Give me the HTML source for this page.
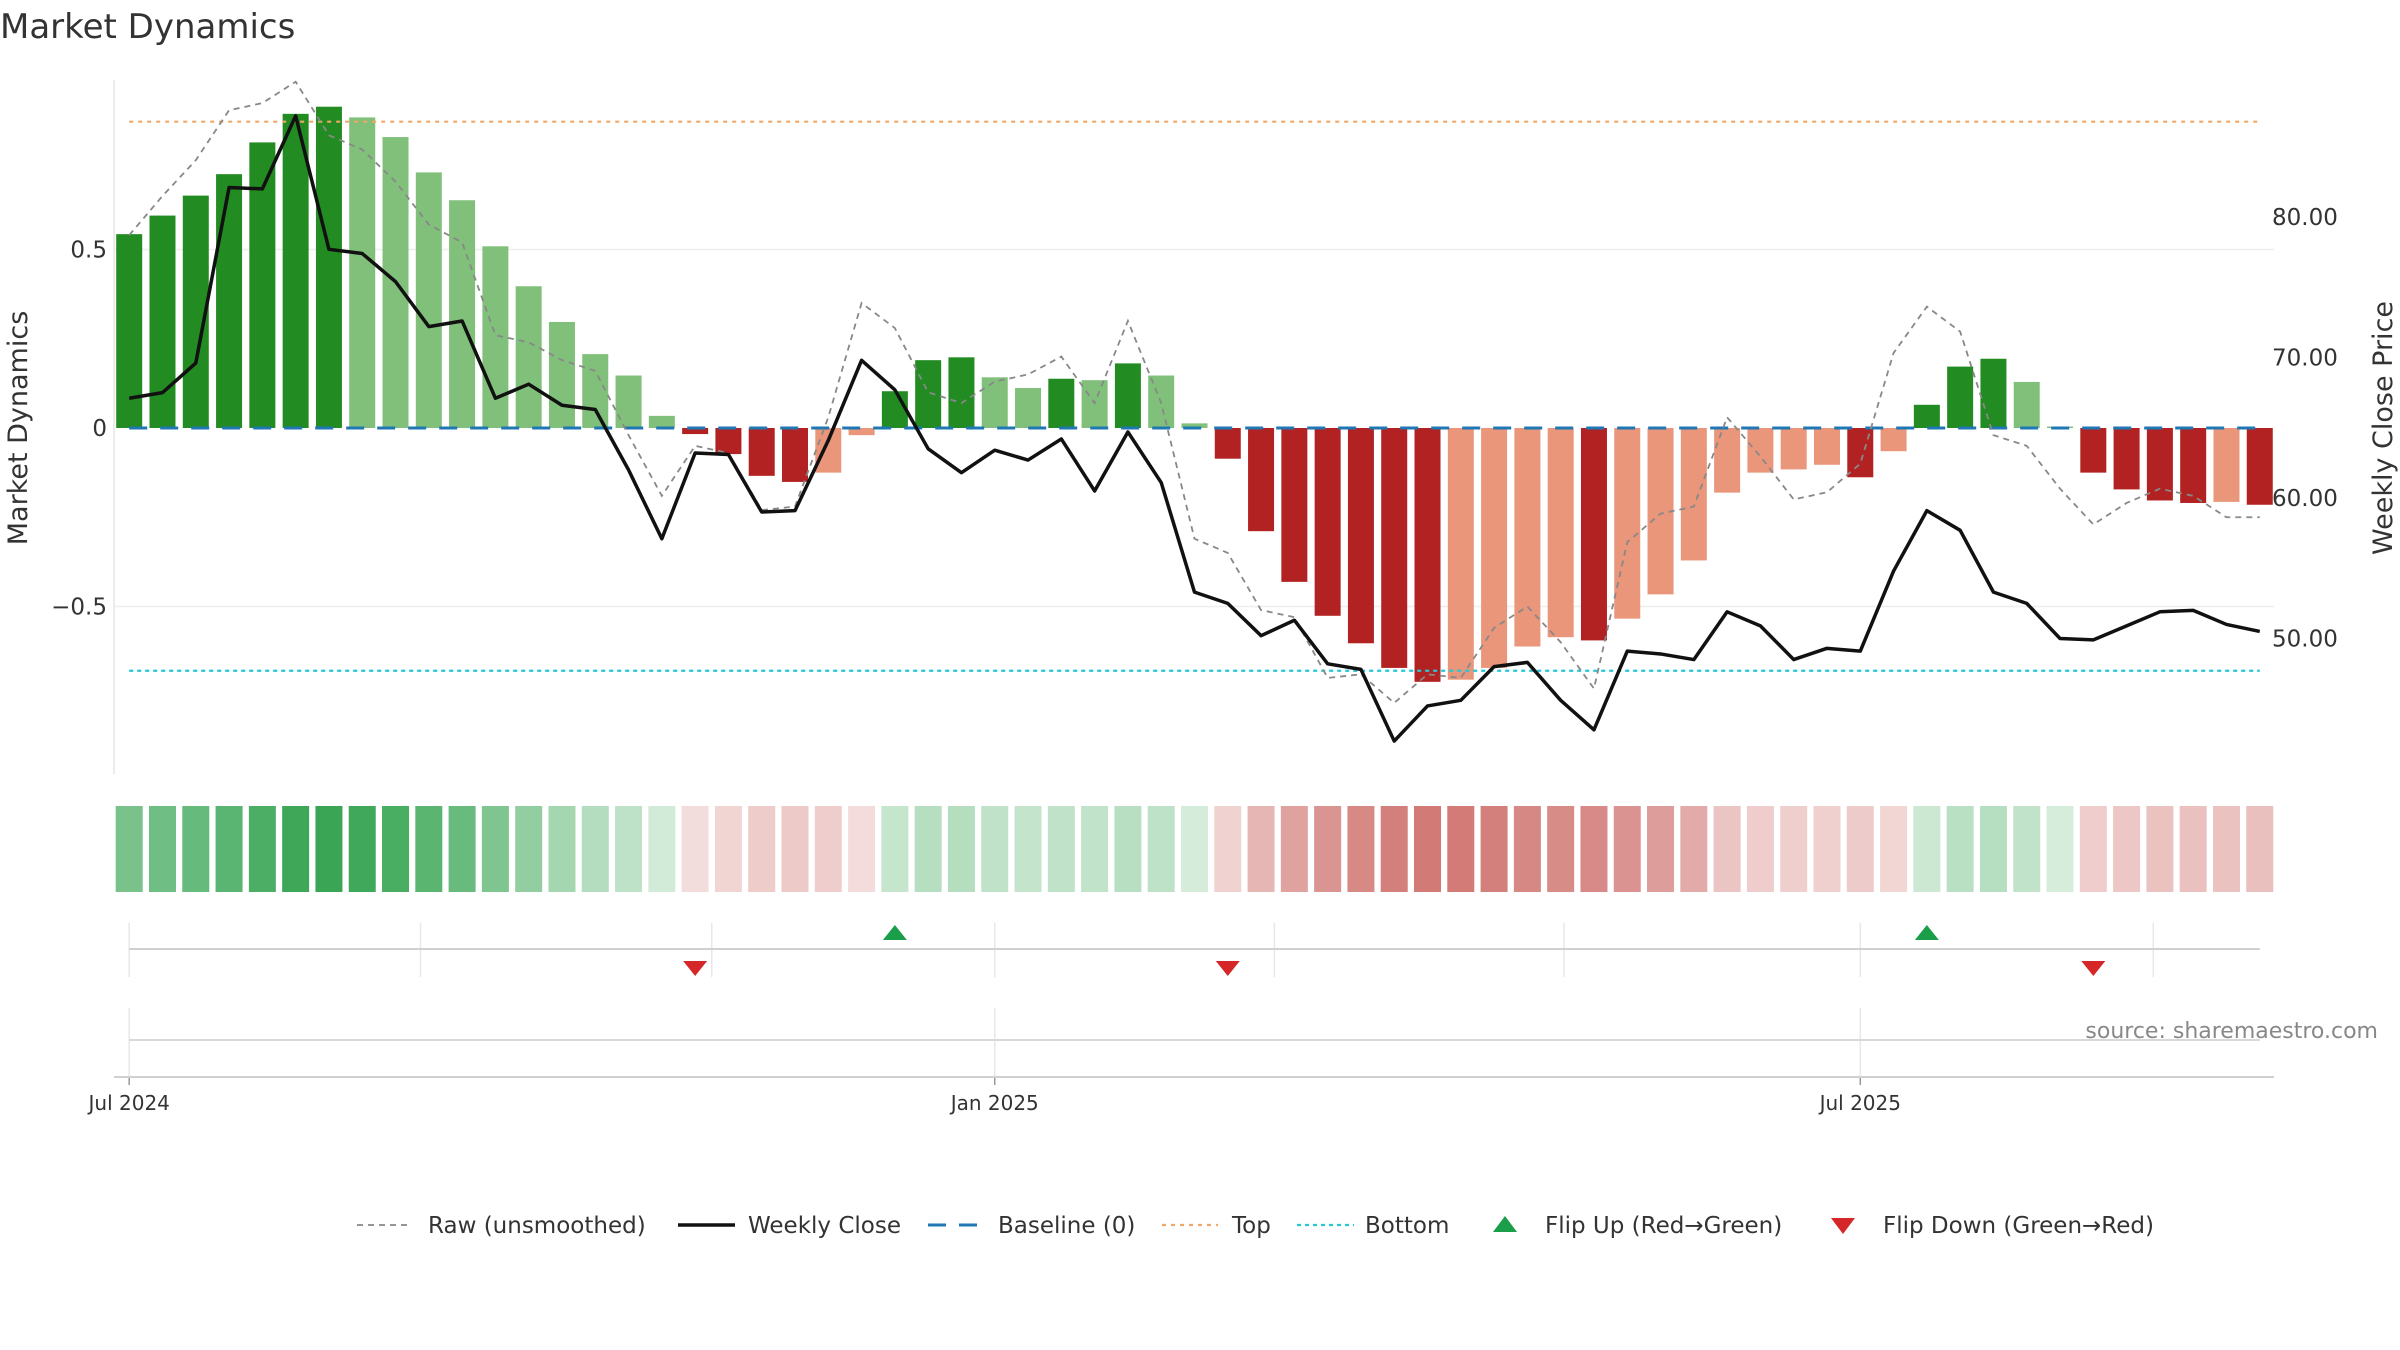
<!DOCTYPE html>
<html><head><meta charset="utf-8"><style>
html,body{margin:0;padding:0;background:#fff;}
svg{display:block;font-family:"DejaVu Sans","Liberation Sans",sans-serif;}
</style></head><body>
<svg id="chart" width="2400" height="1350" viewBox="0 0 2400 1350" xmlns="http://www.w3.org/2000/svg">
<text x="0" y="38" font-size="34" fill="#333">Market Dynamics</text>
<g id="main"></g>
<g id="heat"></g>
<g id="flips"></g>
<g id="bottom"></g>
<text x="2378" y="1038" font-size="22" fill="#888" text-anchor="end">source: sharemaestro.com</text>
<g id="legend"></g>
</svg>
<script>
const dynamics = [0.543,0.595,0.651,0.711,0.80,0.88,0.90,0.87,0.815,0.716,0.638,0.509,0.397,0.297,0.207,0.147,0.034,-0.017,-0.073,-0.134,-0.151,-0.125,-0.02,0.103,0.19,0.198,0.142,0.112,0.138,0.134,0.181,0.147,0.013,-0.086,-0.289,-0.431,-0.526,-0.603,-0.672,-0.711,-0.705,-0.672,-0.612,-0.586,-0.595,-0.534,-0.466,-0.371,-0.181,-0.125,-0.116,-0.103,-0.138,-0.065,0.065,0.172,0.194,0.129,0.004,-0.125,-0.172,-0.203,-0.21,-0.207,-0.215];
const raw = [0.54,0.65,0.75,0.89,0.91,0.97,0.82,0.78,0.69,0.57,0.52,0.26,0.24,0.19,0.16,-0.02,-0.19,-0.05,-0.07,-0.23,-0.22,0.03,0.35,0.28,0.10,0.07,0.13,0.15,0.20,0.07,0.30,0.07,-0.31,-0.35,-0.51,-0.53,-0.70,-0.69,-0.77,-0.69,-0.70,-0.56,-0.50,-0.60,-0.73,-0.32,-0.24,-0.22,0.03,-0.08,-0.20,-0.18,-0.10,0.21,0.34,0.27,-0.02,-0.05,-0.17,-0.27,-0.21,-0.17,-0.19,-0.25,-0.25];
const closes = [67.1,67.5,69.6,82.1,82.0,87.2,77.7,77.4,75.4,72.2,72.6,67.1,68.1,66.6,66.3,62.0,57.1,63.2,63.1,59.0,59.1,64.1,69.8,67.7,63.5,61.8,63.4,62.7,64.2,60.5,64.7,61.1,53.3,52.5,50.2,51.3,48.2,47.8,42.7,45.2,45.6,48.0,48.3,45.6,43.5,49.1,48.9,48.5,51.9,50.9,48.5,49.3,49.1,54.8,59.1,57.7,53.3,52.5,50.0,49.9,50.9,51.9,52.0,51.0,50.5];
const flipUp = [23,54];
const flipDown = [17,33,59];
const topLevel = 0.858;
const bottomLevel = -0.68;
const leftTicks = [0.5,0,-0.5];
const leftTickLabels = ["0.5","0","\u22120.5"];
const rightTicks = [80,70,60,50];
const rightTickLabels = ["80.00","70.00","60.00","50.00"];
const dateTickIdx = [0,26,52];
const dateTickLabels = ["Jul 2024","Jan 2025","Jul 2025"];
const gridIdx = [0,8.75,17.5,26,34.4,43.1,52,60.8];

const NS="http://www.w3.org/2000/svg";
function mk(parent,tag,attrs){const e=document.createElementNS(NS,tag);for(const k in attrs)e.setAttribute(k,attrs[k]);parent.appendChild(e);return e;}
const X0=129.2, STEP=33.29;
const xs=i=>X0+STEP*i;
const yL=v=>428-357*v;
const yR=p=>217+(80-p)*14.05;
const main=document.getElementById('main');

let e=mk(main,'line',{x1:114,y1:80,x2:114,y2:774,stroke:'#e6e6e6','stroke-width':1.5});

leftTicks.forEach((v,k)=>{
  if(v!==0){let g=mk(main,'line',{x1:114,y1:yL(v),x2:2274,y2:yL(v),stroke:'#eeeeee','stroke-width':1.5});
  }
  let t=mk(main,'text',{x:107,y:yL(v)+8,'font-size':23,fill:'#333','text-anchor':'end'});t.textContent=leftTickLabels[k];
  
});
rightTicks.forEach((p,k)=>{
  let t=mk(main,'text',{x:2272,y:yR(p)+8,'font-size':23,fill:'#333'});t.textContent=rightTickLabels[k];
  
});
let yl=mk(main,'text',{x:0,y:0,'font-size':27,fill:'#333','text-anchor':'middle',transform:'translate(27,428) rotate(-90)'});yl.textContent='Market Dynamics';

let yr=mk(main,'text',{x:0,y:0,'font-size':27,fill:'#333','text-anchor':'middle',transform:'translate(2392,428) rotate(-90)'});yr.textContent='Weekly Close Price';


dynamics.forEach((v,i)=>{
  const prev=i>0?dynamics[i-1]:0;
  const strong=(i===0)||(Math.sign(v)!==Math.sign(prev))||Math.abs(v)>=Math.abs(prev);
  const col=v>=0?(strong?'#228b22':'#80c07a'):(strong?'#b22222':'#e9967a');
  const y0=yL(0),y1=yL(v);
  let b=mk(main,'rect',{x:xs(i)-13,y:Math.min(y0,y1),width:26,height:Math.max(Math.abs(y1-y0),1),fill:col});
  
});
e=mk(main,'line',{x1:xs(0),y1:yL(topLevel),x2:xs(64),y2:yL(topLevel),stroke:'#f0a868','stroke-width':2.2,'stroke-dasharray':'4,5'});

e=mk(main,'line',{x1:xs(0),y1:yL(bottomLevel),x2:xs(64),y2:yL(bottomLevel),stroke:'#22c7d8','stroke-width':2.2,'stroke-dasharray':'4,4'});

e=mk(main,'line',{x1:xs(0),y1:yL(0),x2:xs(64),y2:yL(0),stroke:'#1f77b4','stroke-width':3,'stroke-dasharray':'18,13'});

e=mk(main,'polyline',{points:raw.map((v,i)=>xs(i)+','+yL(v)).join(' '),fill:'none',stroke:'#888','stroke-width':1.8,'stroke-dasharray':'6,5'});

e=mk(main,'polyline',{points:closes.map((p,i)=>xs(i)+','+yR(p)).join(' '),fill:'none',stroke:'#111','stroke-width':3.5,'stroke-linejoin':'round'});


const heat=document.getElementById('heat');
dynamics.forEach((v,i)=>{
  const a=Math.min(1,0.2+0.8*Math.abs(v)/0.9);
  const base=v>=0?[58,166,85]:[200,95,90];
  const c=base.map(b=>Math.round(255-(255-b)*a));
  let r=mk(heat,'rect',{x:xs(i)-13.5,y:806,width:27,height:86,fill:`rgb(${c[0]},${c[1]},${c[2]})`});
  
});

const flips=document.getElementById('flips');
gridIdx.forEach(g=>{let l=mk(flips,'line',{x1:xs(g),y1:923,x2:xs(g),y2:977,stroke:'#e8e8e8','stroke-width':1.5});
});
e=mk(flips,'line',{x1:xs(0),y1:949,x2:xs(64),y2:949,stroke:'#d0d0d0','stroke-width':2});

flipUp.forEach(i=>{const x=xs(i);let t=mk(flips,'polygon',{points:`${x-12},940 ${x+12},940 ${x},925`,fill:'#1a9e4a'});
});
flipDown.forEach(i=>{const x=xs(i);let t=mk(flips,'polygon',{points:`${x-12},961 ${x+12},961 ${x},976`,fill:'#d62728'});
});

const bot=document.getElementById('bottom');
dateTickIdx.forEach((d,k)=>{
  let l=mk(bot,'line',{x1:xs(d),y1:1008,x2:xs(d),y2:1077,stroke:'#e8e8e8','stroke-width':1.5});
  
  let tk=mk(bot,'line',{x1:xs(d),y1:1077,x2:xs(d),y2:1085,stroke:'#999','stroke-width':1.5});
  
  let t=mk(bot,'text',{x:xs(d),y:1110,'font-size':20,fill:'#333','text-anchor':'middle'});t.textContent=dateTickLabels[k];
  
});
e=mk(bot,'line',{x1:xs(0),y1:1040,x2:xs(64),y2:1040,stroke:'#d8d8d8','stroke-width':2});

e=mk(bot,'line',{x1:114,y1:1077,x2:2274,y2:1077,stroke:'#d0d0d0','stroke-width':2});


const lg=document.getElementById('legend');
const LY=1225;
function item(name,x1,x2,tx,label,draw){
  const g=mk(lg,'g',{});
  draw(g,x1,x2);
  const t=mk(g,'text',{x:tx,y:LY+8,'font-size':23,fill:'#333'});t.textContent=label;
}
item('legend-raw',357,412,428,'Raw (unsmoothed)',(g,a,b)=>mk(g,'line',{x1:a,y1:LY,x2:b,y2:LY,stroke:'#888','stroke-width':1.8,'stroke-dasharray':'6,5'}));
item('legend-weekly-close',678,735,748,'Weekly Close',(g,a,b)=>mk(g,'line',{x1:a,y1:LY,x2:b,y2:LY,stroke:'#111','stroke-width':3.5}));
item('legend-baseline',928,985,998,'Baseline (0)',(g,a,b)=>mk(g,'line',{x1:a,y1:LY,x2:b,y2:LY,stroke:'#1f77b4','stroke-width':3,'stroke-dasharray':'18,13'}));
item('legend-top',1162,1218,1232,'Top',(g,a,b)=>mk(g,'line',{x1:a,y1:LY,x2:b,y2:LY,stroke:'#f0a868','stroke-width':2.2,'stroke-dasharray':'4,5'}));
item('legend-bottom',1297,1354,1365,'Bottom',(g,a,b)=>mk(g,'line',{x1:a,y1:LY,x2:b,y2:LY,stroke:'#22c7d8','stroke-width':2.2,'stroke-dasharray':'4,4'}));
item('legend-flip-up',1493,1517,1545,'Flip Up (Red\u2192Green)',(g)=>mk(g,'polygon',{points:`1493,${LY+7} 1517,${LY+7} 1505,${LY-9}`,fill:'#1a9e4a'}));
item('legend-flip-down',1831,1855,1883,'Flip Down (Green\u2192Red)',(g)=>mk(g,'polygon',{points:`1831,${LY-7} 1855,${LY-7} 1843,${LY+9}`,fill:'#d62728'}));
</script>
</body></html>
